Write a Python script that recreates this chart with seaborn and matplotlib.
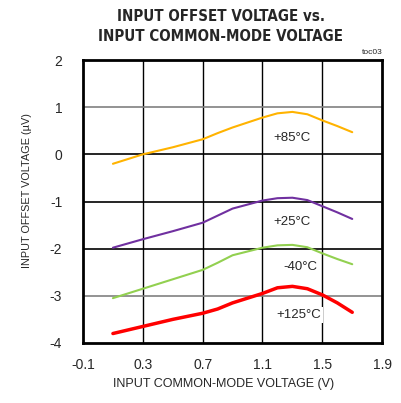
import numpy as np
import pandas as pd
import matplotlib
matplotlib.use("Agg")
import matplotlib.pyplot as plt
import seaborn as sns

sns.set_style("white")
plt.rcParams['font.family'] = ['Liberation Sans', 'DejaVu Sans']
plt.rcParams['axes.unicode_minus'] = False

# Data
vcm = [0.1, 0.3, 0.5, 0.7, 0.8, 0.9, 1.1, 1.2, 1.3, 1.4, 1.5, 1.6, 1.7]
vos_85 = [-0.2, 0.0, 0.15, 0.32, 0.45, 0.57, 0.78, 0.87, 0.9, 0.85, 0.72, 0.6, 0.47]
vos_25 = [-1.98, -1.8, -1.63, -1.45, -1.3, -1.15, -0.98, -0.93, -0.92, -0.97, -1.1, -1.23, -1.37]
vos_m40 = [-3.05, -2.85, -2.65, -2.45, -2.3, -2.14, -1.98, -1.93, -1.92, -1.97, -2.1, -2.22, -2.33]
vos_125 = [-3.8, -3.65, -3.5, -3.37, -3.28, -3.15, -2.95, -2.83, -2.8, -2.85, -2.98, -3.15, -3.35]

labels = ['+85°C', '+25°C', '-40°C', '+125°C']
label_pos = [(1.30, 0.35), (1.30, -1.43), (1.35, -2.39), (1.34, -3.41)]
colors = ['#FFB300', '#7030A0', '#92D050', '#FF0000']
widths = [1.5, 1.5, 1.5, 2.5]

xticks = [-0.1, 0.3, 0.7, 1.1, 1.5, 1.9]
yticks = [-4, -3, -2, -1, 0, 1, 2]

fig = plt.figure(figsize=(4.01, 4.03), dpi=100)
ax = fig.add_axes([0.207, 0.149, 0.746, 0.702])

for vals, name, c, lw in zip([vos_85, vos_25, vos_m40, vos_125], labels, colors, widths):
    df = pd.DataFrame({'x': vcm, 'y': vals})
    sns.lineplot(data=df, x='x', y='y', ax=ax, color=c, linewidth=lw, zorder=3)

for name, (tx, ty) in zip(labels, label_pos):
    ax.text(tx, ty, name, ha='center', va='center', fontsize=9.5, zorder=4,
            bbox=dict(facecolor='white', edgecolor='none', pad=1.5))

ax.set_xlim(-0.1, 1.9)
ax.set_ylim(-4, 2)
ax.set_xticks(xticks)
ax.set_xticklabels([f'{t:g}' for t in xticks])
ax.set_yticks(yticks)
ax.tick_params(length=0, labelsize=10)
ax.tick_params(axis='x', pad=11)
ax.tick_params(axis='y', pad=15)

for x in xticks[1:-1]:
    ax.axvline(x, color='black', linewidth=1, zorder=1)
for y in yticks[1:-1]:
    gc = '#808080' if y in (1, -3) else 'black'
    ax.axhline(y, color=gc, linewidth=1.2, zorder=1)

for s in ax.spines.values():
    s.set_linewidth(2)
    s.set_color('black')

ax.set_xlabel('INPUT COMMON-MODE VOLTAGE (V)', fontsize=9)
ax.xaxis.set_label_coords(0.47, -0.125)
ax.set_ylabel('INPUT OFFSET VOLTAGE (µV)', fontsize=7.8)
ax.yaxis.set_label_coords(-0.17, 0.54)

title_font = dict(fontsize=10.8, fontweight='bold', fontstretch='condensed',
                  family=['DejaVu Sans'])
fig.text(0.552, 0.958, 'INPUT OFFSET VOLTAGE vs.', ha='center', va='center', **title_font)
fig.text(0.549, 0.909, 'INPUT COMMON-MODE VOLTAGE', ha='center', va='center', **title_font)
fig.text(0.953, 0.862, 'toc03', ha='right', va='bottom', fontsize=6)

fig.savefig('out.png', dpi=100)
